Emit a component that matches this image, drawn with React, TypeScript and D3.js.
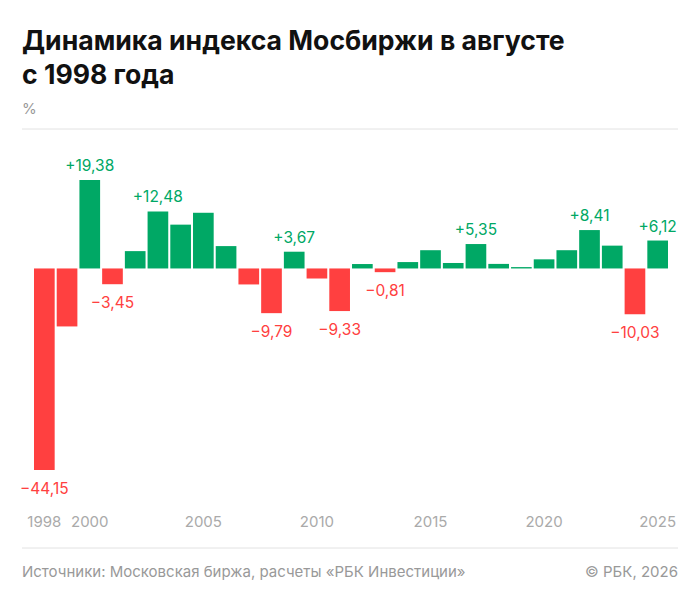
import React from 'react';
import { scaleBand, scaleLinear } from 'd3';

const years = Array.from({ length: 28 }, (_, i) => 1998 + i);
const values = [-44.15, -12.7, 19.38, -3.45, 3.8, 12.48, 9.6, 12.2, 4.9, -3.5, -9.79, 3.67, -2.2, -9.33, 0.97, -0.81, 1.4, 4.0, 1.2, 5.35, 1.0, 0.3, 2.0, 4.0, 8.41, 5.0, -10.03, 6.12];
const labeled = [1998, 2000, 2001, 2003, 2008, 2009, 2011, 2013, 2017, 2022, 2024, 2025];
const tickYears = [1998, 2000, 2005, 2010, 2015, 2020, 2025];

const GREEN = '#00a865';
const RED = '#ff4040';
const FONT = 'Inter, Roboto, sans-serif';

const fmt = (v: number) => (v > 0 ? '+' : '\u2212') + Math.abs(v).toFixed(2).replace('.', ',');

const App: React.FC = () => {
  const x = scaleBand<number>().domain(years).range([34, 668]).paddingInner(0.09);
  const y = scaleLinear([-44.15, 19.38], [470, 180]);
  const y0 = y(0);
  return (
    <svg width={700} height={604} style={{ position: 'absolute', left: 0, top: 0 }} fontFamily={FONT}>
      <rect width={700} height={604} fill="#fff" />
      <text x={22} y={50} fontSize={26.6} fontWeight={700} fill="#111">Динамика индекса Мосбиржи в августе</text>
      <text x={22} y={84} fontSize={26.6} fontWeight={700} fill="#111">с 1998 года</text>
      <text x={22} y={114} fontSize={15} fill="#999">%</text>
      <line x1={22} x2={678} y1={129} y2={129} stroke="#e2e2e2" />
      {years.map((yr, i) => {
        const v = values[i];
        return (
          <rect key={yr} x={x(yr)} width={x.bandwidth()} y={Math.min(y(v), y0)} height={Math.abs(y(v) - y0)} fill={v >= 0 ? GREEN : RED} />
        );
      })}
      {years.map((yr, i) => {
        if (!labeled.includes(yr)) return null;
        const v = values[i];
        const cx = x(yr)! + x.bandwidth() / 2;
        return (
          <text key={yr} x={cx} y={v >= 0 ? y(v) - 9 : y(v) + 24} textAnchor="middle" fontSize={15.5} fill={v >= 0 ? GREEN : RED}>{fmt(v)}</text>
        );
      })}
      {tickYears.map(yr => (
        <text key={yr} x={x(yr)! + x.bandwidth() / 2} y={527} textAnchor="middle" fontSize={15} fill="#aaa">{yr}</text>
      ))}
      <line x1={22} x2={678} y1={548} y2={548} stroke="#e2e2e2" />
      <text x={22} y={577} fontSize={15} fill="#999">Источники: Московская биржа, расчеты «РБК Инвестиции»</text>
      <text x={678} y={577} fontSize={15} fill="#999" textAnchor="end">© РБК, 2026</text>
    </svg>
  );
};

export default App;
